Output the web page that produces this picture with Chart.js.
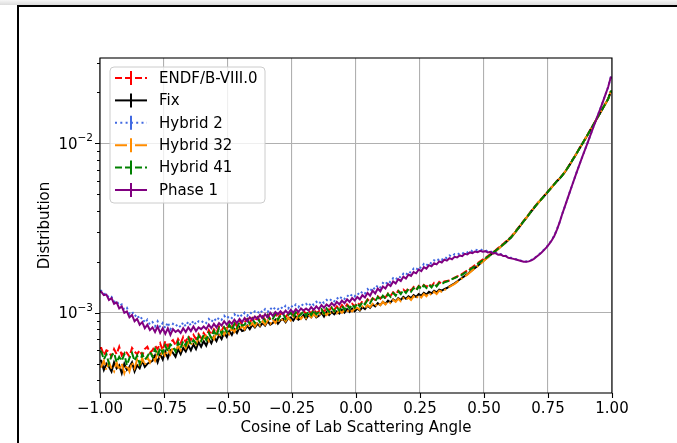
<!DOCTYPE html>
<html>
<head>
<meta charset="utf-8">
<script src="https://cdn.jsdelivr.net/npm/chart.js@4.4.0/dist/chart.umd.min.js"></script>
<style>
  html, body { margin: 0; padding: 0; background: #fff; overflow: hidden; }
  #wrap { position: relative; width: 677px; height: 443px; overflow: hidden; background: #fff; }
  #shade { position: absolute; left: 0; top: 0; width: 677px; height: 5px; background: linear-gradient(#f6f6f6, #dcdcdc); }
  #frame { position: absolute; left: 17px; top: 5px; width: 680px; height: 460px; border-top: 2px solid #000; border-left: 2px solid #000; }
  #c { position: absolute; left: 0; top: 0; }
</style>
</head>
<body>
<div id="wrap">
  <div id="shade"></div>
  <div id="frame"></div>
  <canvas id="c" width="677" height="443"></canvas>
</div>
<script>
// histogram of cos(theta_lab), 200 bins from -1 to 1, values in units of 1e-4
// each row below covers 0.2 in cosine (20 bins)
const binWidth = 0.01;
const nBins = 200;

const endf = [
  6.2,5.6,6.0,5.9,5.5,6.1,5.7,6.3,5.6,5.9,5.8,5.5,6.2,5.9,5.7,6.0,5.6,6.1,6.3,5.8,
  6.0,6.4,6.1,6.6,6.0,6.8,6.3,6.7,6.9,6.4,7.0,6.6,7.2,6.7,7.3,6.9,7.4,7.0,7.5,7.1,
  7.6,7.2,7.9,7.4,8.0,7.6,8.3,7.8,8.4,8.0,8.6,8.1,8.8,8.3,9.0,8.5,8.8,9.2,8.7,9.3,
  8.9,9.4,9.0,9.5,9.1,9.7,9.2,9.4,9.9,9.3,9.8,10.0,9.4,9.9,10.1,9.6,10.2,9.7,9.9,10.3,
  9.8,10.3,9.9,10.5,10.0,10.2,10.6,10.1,10.7,10.3,10.8,10.4,10.9,10.5,11.1,10.6,11.2,10.8,11.3,10.9,
  11.5,11.1,11.7,11.4,12.0,11.6,12.2,11.9,12.5,12.1,12.7,12.3,13.0,12.6,13.2,12.8,13.5,13.1,13.7,13.3,
  14.0,13.5,14.2,13.7,14.4,14.0,14.6,14.2,14.8,14.3,15.0,14.5,15.2,14.8,15.3,15.4,15.5,15.8,16.1,16.4,
  16.6,17.0,17.4,17.8,18.2,18.6,19.1,19.6,20.1,20.6,21.1,21.6,22.2,22.8,23.4,24.1,24.8,25.5,26.3,27.2,
  28.0,29.2,30.5,31.9,33.4,34.9,36.5,38.2,40.0,41.8,43.6,45.4,47.2,49.1,51.1,53.2,55.4,57.7,60.1,62.2,
  64.7,67.7,71.2,75.2,79.7,84.2,89.2,94.7,100.2,106.2,112.7,119.7,127.2,135.2,143.7,152.7,162.2,172.2,183.2,202.4];

const fix = [
  5.2,4.6,5.0,4.8,4.5,5.1,4.7,4.9,4.4,5.0,4.6,4.8,5.1,4.5,4.9,4.7,5.2,4.8,5.0,5.1,
  5.2,5.6,5.1,5.7,5.3,5.9,5.4,6.0,5.8,5.5,6.1,5.7,6.2,5.9,6.4,6.0,6.5,6.1,6.7,6.3,
  6.8,6.4,7.0,6.6,7.2,6.8,7.4,7.0,7.6,7.2,7.8,7.4,8.0,7.6,8.2,7.8,7.9,8.4,8.0,8.5,
  8.2,8.6,8.3,8.7,8.4,8.9,8.5,8.7,9.1,8.6,9.0,9.2,8.8,9.3,9.4,9.0,9.5,9.1,9.3,9.7,
  9.2,9.7,9.4,9.9,9.4,9.6,10.0,9.5,10.1,9.7,10.1,9.8,10.2,9.9,10.4,10.0,10.5,10.1,10.6,10.2,
  10.6,10.3,10.8,10.5,11.0,10.7,11.2,10.9,11.4,11.1,11.6,11.3,11.8,11.5,12.0,11.7,12.2,11.9,12.4,12.1,
  12.5,12.2,12.7,12.4,12.9,12.6,13.1,12.8,13.3,13.0,13.5,13.2,13.7,13.5,13.8,14.0,14.3,14.6,14.9,15.3,
  15.7,16.1,16.5,16.9,17.4,17.9,18.4,18.9,19.5,20.1,20.7,21.3,21.9,22.5,23.1,23.8,24.5,25.2,26.0,26.9,
  27.7,28.9,30.2,31.6,33.1,34.6,36.2,37.9,39.7,41.5,43.3,45.1,46.9,48.8,50.8,52.9,55.1,57.4,59.8,61.9,
  64.3,67.3,70.8,74.8,79.3,83.8,88.8,94.3,99.8,105.8,112.3,119.3,126.8,134.8,143.3,152.3,161.8,171.8,182.8,201.5];

const hybrid2 = [
  13.5,12.9,13.0,12.2,12.4,11.6,11.8,11.0,11.2,10.4,10.7,9.9,10.2,9.5,9.8,9.1,9.4,8.7,9.1,8.5,
  8.8,8.3,8.9,8.2,8.7,8.1,8.8,8.0,8.6,8.3,8.6,8.2,8.8,8.3,8.9,8.4,9.0,8.5,8.9,8.7,
  9.0,8.7,9.2,8.8,9.3,8.9,9.4,9.1,9.6,9.2,9.6,9.3,9.8,9.4,9.9,9.5,10.0,9.6,10.1,9.8,
  10.2,9.9,10.4,10.0,10.5,10.1,10.7,10.3,10.8,10.5,10.9,10.5,11.0,10.6,11.1,10.7,11.2,10.8,11.3,11.0,
  11.3,10.9,11.5,11.1,11.6,11.2,11.8,11.4,11.9,11.6,12.1,11.7,12.3,11.9,12.5,12.1,12.7,12.3,12.9,12.5,
  13.1,12.7,13.4,13.0,13.8,13.3,14.2,13.7,14.6,14.1,15.0,14.6,15.5,15.1,16.0,15.6,16.5,16.1,17.0,16.6,
  17.6,17.2,18.2,17.8,18.8,18.3,19.4,18.9,19.9,19.5,20.4,20.0,20.9,20.5,21.4,21.0,21.8,21.4,22.2,21.9,
  22.5,22.2,23.0,22.7,23.4,23.1,23.6,23.4,23.7,23.3,23.4,23.0,23.1,22.6,22.7,22.2,22.2,21.7,21.7,21.2,
  21.1,20.9,20.7,20.5,20.3,20.1,20.1,20.2,20.5,20.9,21.5,22.1,22.8,23.6,24.5,25.6,26.9,28.6,31.1,34.1,
  38.1,42.1,46.6,51.6,57.1,63.1,69.6,76.6,84.1,92.1,101,111,122,134,147,161,177,195,215,245];

const hybrid32 = [
  4.8,5.2,4.6,5.1,4.7,4.5,5.1,4.6,5.0,4.4,4.9,4.5,5.1,4.7,5.3,4.8,5.4,4.9,5.5,5.1,
  5.6,5.2,5.8,5.4,6.0,5.5,6.1,5.7,6.3,5.9,6.4,6.0,6.6,6.2,6.7,6.4,6.9,6.5,7.1,6.7,
  7.1,7.3,6.8,7.4,7.0,7.6,7.2,7.8,7.4,8.0,7.5,8.1,7.7,8.3,7.9,8.4,8.0,8.6,8.2,8.7,
  8.3,8.8,8.4,8.9,8.5,9.0,8.6,9.1,8.7,9.2,8.8,9.3,8.9,9.4,9.0,9.5,9.1,9.6,9.2,9.6,
  9.3,9.7,9.4,9.8,9.5,9.9,9.6,10.0,9.7,10.1,9.8,10.2,9.9,10.3,10.0,10.4,10.1,10.5,10.2,10.6,
  10.7,10.4,10.9,10.6,11.1,10.8,11.3,10.9,11.4,11.1,11.6,11.2,11.7,11.4,11.9,11.6,12.1,11.7,12.2,11.9,
  12.3,11.9,12.5,12.1,12.7,12.3,12.9,12.5,13.1,12.7,13.3,12.9,13.5,13.3,13.6,13.9,14.2,14.5,14.8,15.2,
  15.6,16.0,16.4,16.8,17.3,17.8,18.3,18.8,19.4,20.0,20.6,21.2,21.8,22.4,23.0,23.7,24.5,25.2,26.0,26.9,
  27.8,29.0,30.3,31.7,33.2,34.7,36.3,38.0,39.8,41.6,43.4,45.2,47.0,48.9,50.9,53.0,55.2,57.5,59.9,62.0,
  64.5,67.5,71.0,75.0,79.5,84.0,89.0,94.5,100.0,106.0,112.5,119.5,127.0,135.0,143.5,152.5,162.0,172.0,183.0,202];

const hybrid41 = [
  5.9,5.3,5.7,5.0,5.6,5.8,5.1,5.5,5.2,5.7,4.9,5.4,5.8,5.2,5.6,5.0,5.7,5.3,5.5,5.9,
  5.5,6.1,5.6,6.2,5.8,6.4,5.9,6.5,6.3,5.9,6.7,6.2,6.8,6.4,7.1,6.5,6.9,6.6,7.3,6.8,
  7.4,6.9,7.6,7.1,7.8,7.3,8.1,7.5,8.2,7.7,8.5,7.9,8.6,8.1,8.8,8.4,8.5,9.1,8.6,9.2,
  8.7,9.3,8.8,9.4,8.9,9.6,9.0,9.2,9.8,9.1,9.6,9.9,9.2,9.7,10.0,9.4,10.1,9.5,9.8,10.2,
  9.6,10.2,9.7,10.4,9.8,10.1,10.5,9.9,10.6,10.1,10.7,10.2,10.8,10.3,11.0,10.4,11.1,10.6,11.2,10.7,
  11.4,10.9,11.6,11.2,11.9,11.4,12.1,11.7,12.4,11.9,12.6,12.1,12.9,12.4,13.1,12.6,13.4,12.9,13.6,13.1,
  13.8,13.3,14.0,13.5,14.3,13.8,14.5,14.0,14.6,14.1,14.9,14.3,15.0,14.8,15.1,15.3,15.5,15.8,16.0,16.3,
  16.4,16.8,17.2,17.6,18.0,18.4,18.9,19.4,19.9,20.4,20.9,21.4,22.0,22.6,23.2,23.9,24.6,25.3,26.1,27.0,
  27.8,29.0,30.3,31.7,33.2,34.7,36.3,38.0,39.8,41.6,43.4,45.2,47.0,48.9,50.9,53.0,55.2,57.5,59.9,62.0,
  64.5,67.5,71.0,75.0,79.5,84.0,89.0,94.5,100.0,106.0,112.5,119.5,127.0,135.0,143.5,152.5,162.0,172.0,183.0,202];

const phase1 = [
  13.3,12.7,12.8,11.9,12.2,11.3,11.5,10.6,10.9,10.0,10.2,9.4,9.7,8.9,9.2,8.5,8.8,8.1,8.5,7.9,
  8.2,7.7,8.3,7.6,8.1,7.5,8.1,7.4,8.0,7.7,7.9,7.6,8.1,7.7,8.2,7.8,8.3,7.8,8.2,8.0,
  8.3,8.0,8.5,8.1,8.6,8.2,8.7,8.4,8.9,8.5,8.9,8.6,9.1,8.7,9.2,8.8,9.3,8.9,9.4,9.1,
  9.5,9.2,9.7,9.3,9.8,9.4,10.0,9.6,10.1,9.8,10.2,9.8,10.3,9.9,10.4,10.0,10.5,10.1,10.6,10.3,
  10.6,10.3,10.8,10.4,10.9,10.5,11.1,10.7,11.2,10.9,11.4,11.0,11.6,11.2,11.8,11.4,12.0,11.6,12.2,11.8,
  12.4,12.0,12.7,12.3,13.1,12.6,13.5,13.0,13.9,13.4,14.3,13.9,14.8,14.4,15.3,14.9,15.8,15.4,16.3,15.9,
  16.8,16.5,17.4,17.1,18.0,17.6,18.6,18.2,19.1,18.8,19.6,19.3,20.1,19.8,20.6,20.3,21.0,20.7,21.4,21.2,
  21.8,21.6,22.3,22.1,22.7,22.5,23.0,22.8,23.2,22.9,23.1,22.7,22.9,22.4,22.5,22.0,22.1,21.6,21.6,21.1,
  21.0,20.8,20.6,20.4,20.2,20.0,20.0,20.1,20.4,20.8,21.4,22.0,22.7,23.5,24.4,25.5,26.8,28.5,31.0,34.0,
  38.0,42.0,46.5,51.5,57.0,63.0,69.5,76.5,84.0,92.0,101,111,122,134,147,161,177,195,215,245];

const series = [
  { label: 'ENDF/B-VIII.0', values: endf,      color: '#ff0000', dash: [7, 3] },
  { label: 'Fix',           values: fix,       color: '#000000', dash: [] },
  { label: 'Hybrid 2',      values: hybrid2,   color: '#4169e1', dash: [2, 3.3] },
  { label: 'Hybrid 32',     values: hybrid32,  color: '#ff8c00', dash: [12, 3, 2, 3] },
  { label: 'Hybrid 41',     values: hybrid41,  color: '#008000', dash: [7, 3] },
  { label: 'Phase 1',       values: phase1,    color: '#800080', dash: [] }
];

const xTickStep = 0.25;
const yMin = 3.36e-4, yMax = 3.19e-2;
const FONT = 'DejaVu Sans';
const FS = 15;

// one point per bin centre, plus the two outer edges of the range
function histPoints(vals) {
  const pts = vals.map((v, i) => ({ x: -1 + (i + 0.5) * binWidth, y: v * 1e-4 }));
  pts.unshift({ x: -1, y: vals[0] * 1e-4 });
  pts.push({ x: 1, y: vals[nBins - 1] * 1e-4 });
  return pts;
}

function isDecade(v) {
  const l = Math.log10(v);
  return Math.abs(l - Math.round(l)) < 1e-6;
}
function isWhole(v) {
  const m = v / Math.pow(10, Math.floor(Math.log10(v) + 1e-9));
  return Math.abs(m - Math.round(m)) < 1e-6;
}

const decor = {
  id: 'decor',
  afterDatasetsDraw(chart) {
    const { ctx, chartArea: a, scales } = chart;
    const x = scales.x, y = scales.y;
    ctx.save();

    // frame + tick marks
    ctx.strokeStyle = '#000';
    ctx.lineWidth = 1.1;
    ctx.strokeRect(a.left, a.top, a.right - a.left, a.bottom - a.top);
    ctx.beginPath();
    x.ticks.forEach(t => {
      const px = Math.round(x.getPixelForValue(t.value)) + 0.5;
      ctx.moveTo(px, a.bottom);
      ctx.lineTo(px, a.bottom + 5);
    });
    y.ticks.forEach(t => {
      if (!isWhole(t.value)) return;
      const py = Math.round(y.getPixelForValue(t.value)) + 0.5;
      if (py < a.top || py > a.bottom) return;
      const len = isDecade(t.value) ? 5 : 3;
      ctx.moveTo(a.left, py);
      ctx.lineTo(a.left - len, py);
    });
    ctx.stroke();

    // decade labels 10^n
    ctx.fillStyle = '#000';
    ctx.textBaseline = 'alphabetic';
    y.ticks.forEach(t => {
      if (!isDecade(t.value)) return;
      const py = y.getPixelForValue(t.value);
      const exp = '\u2212' + Math.abs(Math.round(Math.log10(t.value)));
      ctx.font = (FS * 0.7) + 'px ' + FONT;
      const we = ctx.measureText(exp).width;
      ctx.font = FS + 'px ' + FONT;
      const wb = ctx.measureText('10').width;
      const right = a.left - 7;
      ctx.textAlign = 'left';
      ctx.fillText('10', right - we - wb, py + 5.5);
      ctx.font = (FS * 0.7) + 'px ' + FONT;
      ctx.fillText(exp, right - we, py - 2);
    });

    // axis titles
    ctx.font = FS + 'px ' + FONT;
    ctx.textAlign = 'center';
    ctx.textBaseline = 'middle';
    ctx.fillText('Cosine of Lab Scattering Angle', (a.left + a.right) / 2, 428);
    ctx.save();
    ctx.translate(45, (a.top + a.bottom) / 2);
    ctx.rotate(-Math.PI / 2);
    ctx.fillText('Distribution', 0, 0);
    ctx.restore();

    // legend box
    const bx = a.left + 10, by = a.top + 9, bw = 155, bh = 136, r = 4;
    ctx.beginPath();
    ctx.moveTo(bx + r, by);
    ctx.arcTo(bx + bw, by, bx + bw, by + bh, r);
    ctx.arcTo(bx + bw, by + bh, bx, by + bh, r);
    ctx.arcTo(bx, by + bh, bx, by, r);
    ctx.arcTo(bx, by, bx + bw, by, r);
    ctx.closePath();
    ctx.fillStyle = 'rgba(255,255,255,0.8)';
    ctx.fill();
    ctx.strokeStyle = '#cccccc';
    ctx.lineWidth = 1;
    ctx.stroke();

    series.forEach((s, i) => {
      const ry = by + 11 + i * 22.4;
      ctx.strokeStyle = s.color;
      ctx.lineWidth = 2;
      ctx.setLineDash(s.dash);
      ctx.beginPath();
      ctx.moveTo(bx + 5, ry);
      ctx.lineTo(bx + 37, ry);
      ctx.stroke();
      ctx.setLineDash([]);
      ctx.beginPath();
      ctx.moveTo(bx + 21, ry - 7);
      ctx.lineTo(bx + 21, ry + 7);
      ctx.stroke();
      ctx.fillStyle = '#000';
      ctx.font = FS + 'px ' + FONT;
      ctx.textAlign = 'left';
      ctx.textBaseline = 'middle';
      ctx.fillText(s.label, bx + 49, ry + 1);
    });

    ctx.restore();
  }
};

const datasets = series.map((s, i) => ({
  label: s.label,
  data: histPoints(s.values),
  borderColor: s.color,
  backgroundColor: s.color,
  borderWidth: 2,
  borderDash: s.dash,
  pointRadius: 0,
  tension: 0,
  fill: false,
  order: series.length - i
}));

new Chart(document.getElementById('c'), {
  type: 'line',
  data: { datasets },
  options: {
    responsive: false,
    animation: false,
    devicePixelRatio: 1,
    layout: { padding: { top: 58, right: 65, left: 0, bottom: 0 } },
    plugins: { legend: { display: false }, tooltip: { enabled: false } },
    scales: {
      x: {
        type: 'linear',
        min: -1,
        max: 1,
        afterFit: s => { s.height = 50; },
        border: { display: false },
        grid: { color: '#b0b0b0', lineWidth: 1.1, drawTicks: false },
        ticks: {
          stepSize: xTickStep,
          color: '#000',
          font: { family: FONT, size: FS },
          padding: 7,
          maxRotation: 0,
          callback: v => (v < 0 ? '\u2212' : '') + Math.abs(v).toFixed(2)
        }
      },
      y: {
        type: 'logarithmic',
        bounds: 'data',
        min: yMin,
        max: yMax,
        afterFit: s => { s.width = 100; },
        border: { display: false },
        grid: {
          drawTicks: false,
          lineWidth: 1.1,
          color: c => (c.tick && isDecade(c.tick.value)) ? '#b0b0b0' : 'rgba(0,0,0,0)'
        },
        ticks: { display: false }
      }
    }
  },
  plugins: [decor]
});
</script>
</body>
</html>
